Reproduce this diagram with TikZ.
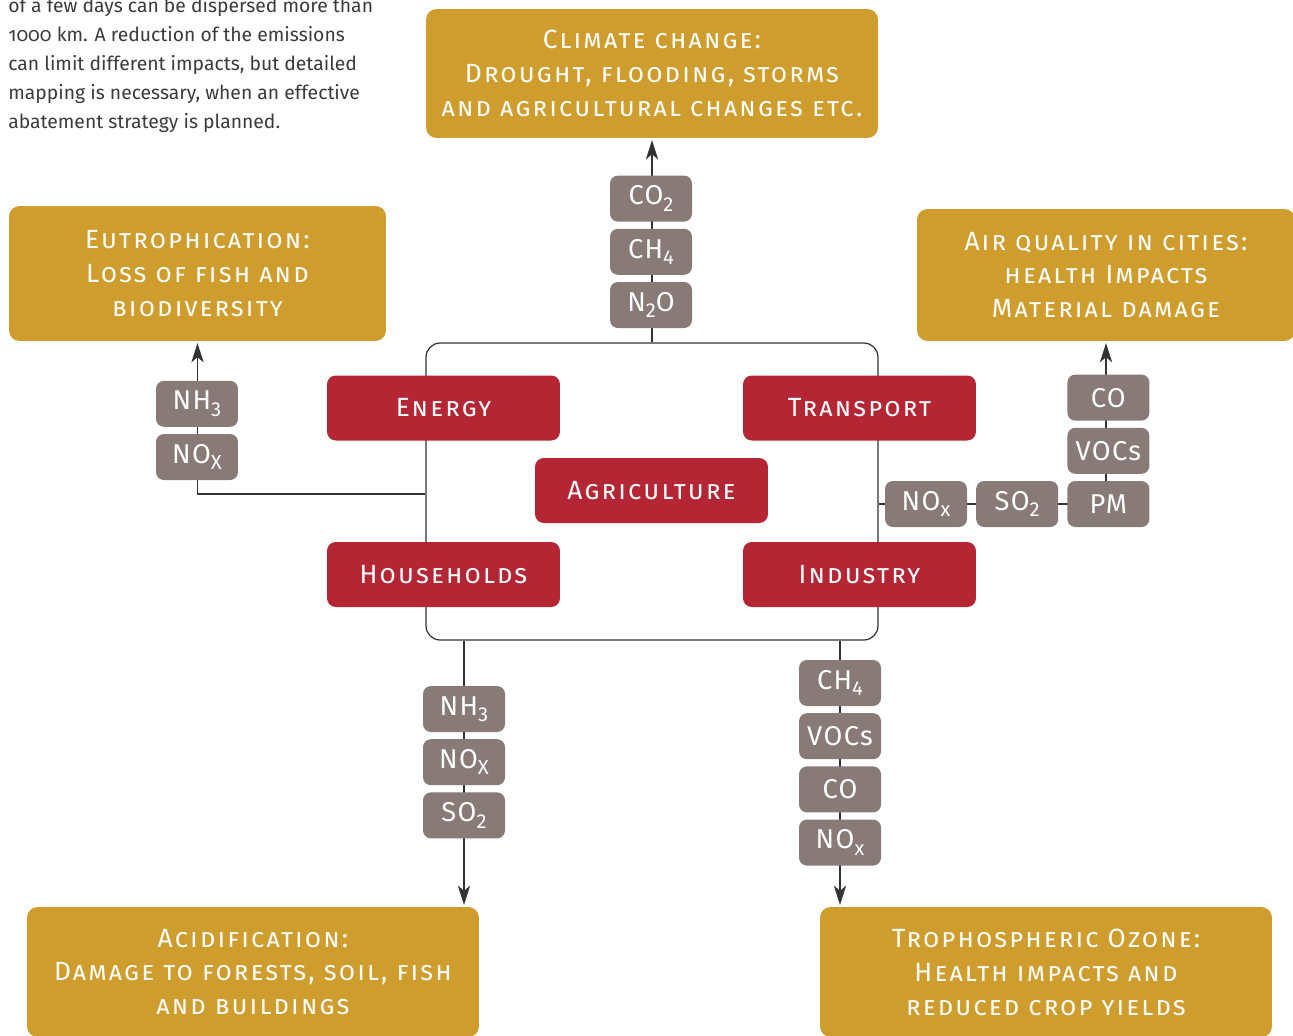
\documentclass[tikz,border=0pt]{standalone}
\usepackage{fontspec}
\setmainfont{Fira Sans}
\newfontfamily\capsfont[LetterSpace=8]{Fira Sans}
\newfontfamily\gasfont[LetterSpace=5]{Fira Sans}
\newfontfamily\parafont[Numbers=OldStyle]{Fira Sans}
\usepackage{xcolor}
\usetikzlibrary{arrows.meta,positioning,backgrounds}

\definecolor{impactcol}{HTML}{CF9D2E}
\definecolor{sectorcol}{HTML}{B52635}
\definecolor{gascol}{HTML}{877A77}
\definecolor{wirecol}{HTML}{333333}
\definecolor{paracol}{HTML}{3A3A3A}

% chemical index, set lower and a bit larger than \textsubscript
\newcommand{\chem}[1]{\raisebox{-0.45ex}{\fontsize{11.5}{12}\selectfont #1}}

\begin{document}
\begin{tikzpicture}[x=0.02cm, y=-0.02cm, line cap=round, line join=round,
    node distance=0.13cm and 0.17cm,
    impactbox/.style={fill=impactcol, rounded corners=6pt, text=white, align=center,
        font=\capsfont\scshape\fontsize{15}{19.3}\selectfont},
    sectorbox/.style={fill=sectorcol, rounded corners=5pt, text=white,
        minimum width=4.66cm, minimum height=1.3cm,
        font=\capsfont\scshape\fontsize{15}{18}\selectfont},
    gasbox/.style={fill=gascol, rounded corners=4.5pt, text=white,
        minimum width=1.64cm, minimum height=0.92cm, inner sep=0pt,
        font=\gasfont\fontsize{15.5}{18}\selectfont},
    wire/.style={draw=wirecol, line width=0.7pt},
    flow/.style={wire, -{Stealth[length=11pt, width=7pt, inset=3pt]}, shorten >=1pt}]

\useasboundingbox (0,0) rectangle (1293,1035);

% ---------------------------------------------------------
% Intro text (cut at the top of the page)
% ---------------------------------------------------------
\node[anchor=base west, inner sep=0pt, align=left, text=paracol,
      font=\parafont\fontsize{11}{16.5}\selectfont] (intro) at (8,128)
    {of a few days can be dispersed more than\\
     1000 km. A reduction of the emissions\\
     can limit different impacts, but detailed\\
     mapping is necessary, when an effective\\
     abatement strategy is planned.};

% ---------------------------------------------------------
% Impacts
% ---------------------------------------------------------
\node[impactbox, minimum width=9.04cm, minimum height=2.58cm] (climate) at (652,73.5)
    {Climate change:\\ Drought, flooding, storms\\ and agricultural changes etc.};
\node[impactbox, minimum width=7.54cm, minimum height=2.7cm] (eutro) at (197.5,273.5)
    {Eutrophication:\\ Loss of fish and\\ biodiversity};
\node[impactbox, minimum width=7.56cm, minimum height=2.64cm] (air) at (1106,275)
    {Air quality in cities:\\ health Impacts\\ Material damage};
\node[impactbox, minimum width=9.04cm, minimum height=2.6cm] (acid) at (253,972)
    {Acidification:\\ Damage to forests, soil, fish\\ and buildings};
\node[impactbox, minimum width=9.04cm, minimum height=2.6cm] (tropo) at (1046,972)
    {Trophospheric Ozone:\\ Health impacts and\\ reduced crop yields};

% ---------------------------------------------------------
% Sectors
% ---------------------------------------------------------
\node[draw=wirecol, line width=0.7pt, rounded corners=8pt,
      minimum width=9.04cm, minimum height=5.94cm] (frame) at (652,491.5) {};

\node[sectorbox] (energy)      at (443.5,408)   {Energy};
\node[sectorbox] (transport)   at (859.5,408)   {Transport};
\node[sectorbox] (agriculture) at (651.5,490.5) {Agriculture};
\node[sectorbox] (households)  at (443.5,574.5) {Households};
\node[sectorbox] (industry)    at (859.5,574.5) {Industry};

% ---------------------------------------------------------
% Gases
% ---------------------------------------------------------
% greenhouse gases
\node[gasbox] (n2o) at (651,305) {N\chem{2}O};
\node[gasbox, above=of n2o] (ch4) {CH\chem{4}};
\node[gasbox, above=of ch4] (co2) {CO\chem{2}};

% eutrophication
\node[gasbox] (noxl) at (197,457) {NO\chem{X}};
\node[gasbox, above=of noxl] (nh3l) {NH\chem{3}};

% air quality
\node[gasbox] (noxr) at (926,504) {NO\chem{x}};
\node[gasbox, right=of noxr] (so2r) {SO\chem{2}};
\node[gasbox, right=of so2r] (pm) {PM};
\node[gasbox, above=of pm] (vocr) {VOCs};
\node[gasbox, above=of vocr] (cor) {CO};

% acidification
\node[gasbox] (nh3b) at (464,709) {NH\chem{3}};
\node[gasbox, below=of nh3b] (noxb) {NO\chem{X}};
\node[gasbox, below=of noxb] (so2b) {SO\chem{2}};

% ozone
\node[gasbox] (ch4b) at (840,683) {CH\chem{4}};
\node[gasbox, below=of ch4b] (vocb) {VOCs};
\node[gasbox, below=of vocb] (cob) {CO};
\node[gasbox, below=of cob] (noxbr) {NO\chem{x}};

% ---------------------------------------------------------
% Connectors (behind the boxes)
% ---------------------------------------------------------
\coordinate (lbend) at (197,494);
\begin{scope}[on background layer]
  \draw[flow] (frame.north) -- (climate.south);
  \draw[flow] (frame.west |- lbend) -| (eutro.south);
  \draw[flow] (frame.east |- pm) -| (air.south);
  \draw[flow] (frame.south -| nh3b) -- (acid.north -| nh3b);
  \draw[flow] (frame.south -| ch4b) -- (tropo.north -| ch4b);
\end{scope}

\end{tikzpicture}
\end{document}
